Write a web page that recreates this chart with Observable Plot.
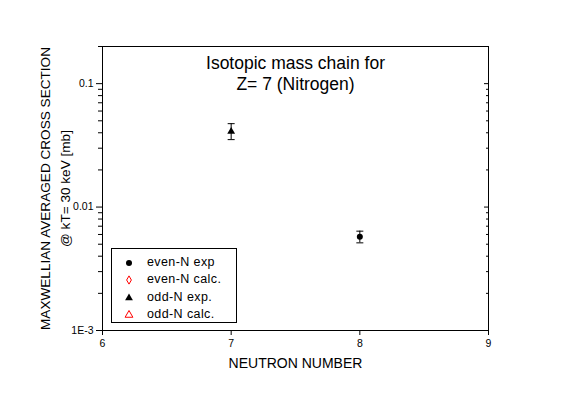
<!DOCTYPE html>
<html><head><meta charset="utf-8">
<script src="https://cdn.jsdelivr.net/npm/d3@7"></script>
<script src="https://cdn.jsdelivr.net/npm/@observablehq/plot@0.6"></script>
<style>
body{margin:0;background:#fff;}
#wrap{position:relative;width:567px;height:395px;font-family:"Liberation Sans",Arial,sans-serif;}
#legend{position:absolute;left:111px;top:248px;width:124px;height:73px;border:1px solid #000;background:#fff;}
#legend .row{position:absolute;left:0;height:18px;width:124px;}
#legend svg{position:absolute;left:10px;top:3px;}
#legend span{position:absolute;left:35px;top:1px;font-size:12.5px;letter-spacing:0.4px;line-height:16px;white-space:nowrap;color:#000;}
</style></head>
<body><div id="wrap"></div>
<script>
// ---- data ----
const xTicks = [6, 7, 8, 9];
const yMajor = [0.001, 0.01, 0.1];
const yMajorLabels = ["1E-3", "0.01", "0.1"];
const yMinor = [0.002,0.003,0.004,0.005,0.006,0.007,0.008,0.009,0.02,0.03,0.04,0.05,0.06,0.07,0.08,0.09,0.2];

const evenN = [8];
const evenExp = [0.00574];
const evenLo = [0.00513];
const evenHi = [0.00638];

const oddN = [7];
const oddExp = [0.041];
const oddLo = [0.0352];
const oddHi = [0.0474];

const evenCalcN = [];
const evenCalc = [];
const oddCalcN = [];
const oddCalc = [];

const titleLines = ["Isotopic mass chain for", "Z= 7 (Nitrogen)"];
const yLabelLines = ["MAXWELLIAN AVERAGED CROSS SECTION", "@ kT= 30 keV [mb]"];
const xLabel = "NEUTRON NUMBER";
const legendLabels = ["even-N exp", "even-N calc.", "odd-N exp.", "odd-N calc."];

// ---- tables ----
const even = evenN.map((n,i)=>({n, v:evenExp[i], lo:evenLo[i], hi:evenHi[i]}));
const odd = oddN.map((n,i)=>({n, v:oddExp[i], lo:oddLo[i], hi:oddHi[i]}));
const evenC = evenCalcN.map((n,i)=>({n, v:evenCalc[i]}));
const oddC = oddCalcN.map((n,i)=>({n, v:oddCalc[i]}));
const errs = even.concat(odd);

const capSymbol = {draw(ctx, size){const r=Math.sqrt(size/Math.PI); ctx.moveTo(-r,0); ctx.lineTo(r,0);}};
const font = '"Liberation Sans",Arial,sans-serif';

const chart = Plot.plot({
  width: 567, height: 395,
  marginLeft: 102, marginRight: 79, marginTop: 46, marginBottom: 65,
  style: {fontFamily: font, fontSize: "10.5px", color: "#000", background: "#fff"},
  x: {domain: [6, 9]},
  y: {type: "log", domain: [0.001, 0.2]},
  marks: [
    Plot.axisX({ticks: xTicks, tickSize: 5, tickPadding: 4, tickFormat: d => String(d), label: null}),
    Plot.axisY({ticks: yMajor, tickSize: 6, tickPadding: 3, tickFormat: d => yMajorLabels[yMajor.indexOf(d)], label: null}),
    Plot.axisY({ticks: yMinor, tickSize: 4, tickFormat: () => "", label: null}),
    Plot.axisY({anchor: "right", ticks: yMajor, tickSize: 5, dx: -5, tickFormat: () => "", label: null}),
    Plot.axisY({anchor: "right", ticks: yMinor, tickSize: 3, dx: -3, tickFormat: () => "", label: null}),
    Plot.frame({stroke: "#000"}),
    Plot.ruleX(errs, {x: "n", y1: "lo", y2: "hi", stroke: "#000", strokeWidth: 1}),
    Plot.dot(errs, {x: "n", y: "lo", symbol: capSymbol, r: 3.5, stroke: "#000", strokeWidth: 1}),
    Plot.dot(errs, {x: "n", y: "hi", symbol: capSymbol, r: 3.5, stroke: "#000", strokeWidth: 1}),
    Plot.dot(even, {x: "n", y: "v", symbol: "circle", r: 3, fill: "#000", stroke: "none"}),
    Plot.dot(odd, {x: "n", y: "v", symbol: "triangle", r: 2.9, fill: "#000", stroke: "none"}),
    Plot.dot(evenC, {x: "n", y: "v", symbol: "diamond", r: 2.5, fill: "none", stroke: "red"}),
    Plot.dot(oddC, {x: "n", y: "v", symbol: "triangle", r: 2.9, fill: "none", stroke: "red"}),
    Plot.text([titleLines.join("\n")], {frameAnchor: "top", lineAnchor: "top", dy: 8, fontSize: 17.5, lineHeight: 1.2, fill: "#000", text: d => d}),
    Plot.text([yLabelLines.join("\n")], {frameAnchor: "left", textAnchor: "middle", lineAnchor: "middle", rotate: -90, dx: -49, fontSize: 13.6, lineHeight: 1.47, fill: "#000", text: d => d}),
    Plot.text([xLabel], {frameAnchor: "bottom", dy: 37, fontSize: 14, fill: "#000", text: d => d})
  ]
});
const wrap = document.getElementById("wrap");
wrap.appendChild(chart);

// ---- legend ----
const legendSymbols = [
  {type: d3.symbolCircle, size: Math.PI*9, fill: "#000", stroke: "none"},
  {type: d3.symbolDiamond, size: Math.PI*6.25, fill: "none", stroke: "red"},
  {type: d3.symbolTriangle, size: Math.PI*2.9*2.9, fill: "#000", stroke: "none"},
  {type: d3.symbolTriangle, size: Math.PI*2.9*2.9, fill: "none", stroke: "red"}
];
const leg = document.createElement("div");
leg.id = "legend";
legendLabels.forEach((lab, i) => {
  const row = document.createElement("div");
  row.className = "row";
  row.style.top = (4 + i*17.4) + "px";
  const svg = d3.create("svg").attr("width", 14).attr("height", 14);
  svg.append("path").attr("transform", "translate(7,7)")
    .attr("d", d3.symbol(legendSymbols[i].type, legendSymbols[i].size)())
    .attr("fill", legendSymbols[i].fill).attr("stroke", legendSymbols[i].stroke);
  row.appendChild(svg.node());
  const span = document.createElement("span");
  span.textContent = lab;
  row.appendChild(span);
  leg.appendChild(row);
});
wrap.appendChild(leg);
</script>
</body></html>
